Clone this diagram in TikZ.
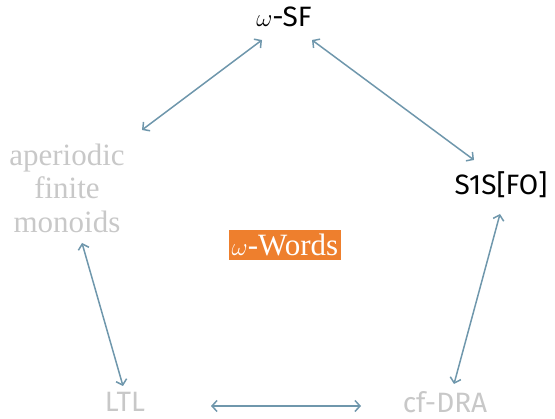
\documentclass[tikz,border=0pt]{standalone}
\usepackage{fontspec}
\usetikzlibrary{arrows.meta}
\setmainfont{Liberation Serif}
\setsansfont{Fira Sans}
\definecolor{arrc}{HTML}{6F97AC}
\definecolor{lgray}{HTML}{C8C8C8}
\definecolor{orng}{HTML}{EE7F2D}
\begin{document}
\begin{tikzpicture}[x=1pt,y=-1pt,
  lbl/.style={inner sep=0pt, font=\fontsize{31}{33.5}\selectfont},
  sflbl/.style={lbl, font=\fontsize{28}{32}\sffamily\selectfont},
  arr/.style={draw=arrc, line width=1.5pt, {Straight Barb[length=5pt,width=11pt]}-{Straight Barb[length=5pt,width=11pt]}}]
\useasboundingbox (0,0) rectangle (555,419);
\node[sflbl] (sf) at (284,17) {$\omega$-SF};
\node[lbl, text=lgray, align=center] (ap) at (67,188) {aperiodic\\finite\\monoids};
\node[sflbl] (s1s) at (501,185) {S1S[FO]};
\node[lbl, fill=orng, text=white, inner xsep=3pt, inner ysep=4pt] (w) at (285,245) {$\omega$-Words};
\node[sflbl, text=lgray] (ltl) at (125,402) {LTL};
\node[sflbl, text=lgray] (cf) at (445,402) {cf-DRA};
\draw[arr] ([shift={(-22,23)}]sf.center) -- ([shift={(75,-58)}]ap.center);
\draw[arr] ([shift={(28,23)}]sf.center) -- ([shift={(-27,-25)}]s1s.center);
\draw[arr] ([shift={(15,55)}]ap.center) -- ([shift={(-2,-16)}]ltl.center);
\draw[arr] ([shift={(-1,29)}]s1s.center) -- ([shift={(9,-18)}]cf.center);
\draw[arr] ([shift={(86,4)}]ltl.center) -- ([shift={(-84,4)}]cf.center);
\end{tikzpicture}
\end{document}
